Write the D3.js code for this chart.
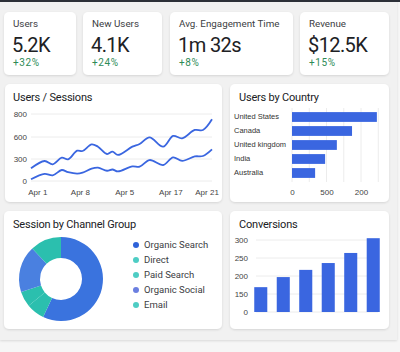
<!DOCTYPE html>
<html>
<head>
<meta charset="utf-8">
<script src="https://cdn.jsdelivr.net/npm/d3@7"></script>
<style>
    body { margin: 0; background: #f6f6f6; font-family: Roboto, "Noto Sans", sans-serif; }
    .card { fill: #ffffff; }
    .card-title { font-size: 11px; font-weight: 400; fill: #202124; letter-spacing: -0.2px; }
    .kpi-label { font-size: 9.8px; fill: #3c4043; }
    .kpi-value { font-size: 20px; fill: #202124; letter-spacing: -0.6px; }
    .kpi-delta { font-size: 10px; fill: #2e8b57; }
    .tick text { font-size: 8px; fill: #444; }
    .grid line { stroke: #ececec; stroke-width: 1; }
    .domain { display: none; }
    .tick line { display: none; }
    .legend-text { font-size: 9.5px; fill: #3c4043; }
</style>
</head>
<body>
<div id="chart"></div>
<script>
// KPI tiles
var kpiLabels = ["Users", "New Users", "Avg. Engagement Time", "Revenue"]
var kpiValues = ["5.2K", "4.1K", "1m 32s", "$12.5K"]
var kpiDeltas = ["+32%", "+24%", "+8%", "+15%"]

// Users / Sessions line chart
var lineDays = [0, 1.5, 2.4, 3.4, 4.1, 5.1, 5.7, 6.7, 7.4, 8.4, 9, 9.6, 11.2, 12, 13.1, 14.6, 15.7, 16.7, 18.1, 19, 20]
var sessionsVals = [173, 273, 228, 318, 296, 413, 409, 500, 468, 368, 400, 355, 468, 505, 596, 468, 609, 582, 661, 661, 754]
var usersVals = [23, 98, 77, 150, 120, 100, 113, 168, 181, 140, 157, 130, 200, 195, 286, 218, 323, 275, 335, 341, 432]
var lineYTicks = [0, 300, 600, 800]
var lineXTicks = [0.7, 5.4, 10.3, 15.4, 19.4]
var lineXLabels = ["Apr 1", "Apr 8", "Apr 5", "Apr 17", "Apr 21"]

// Users by Country
var countries = ["United States", "Canada", "United kingdom", "India", "Australia"]
var countryUsers = [246, 174, 130, 96, 67]
var countryTicks = [0, 100, 200]
var countryTickLabels = ["0", "500", "200"]
var countryGrid = [0, 50, 100, 150, 200, 250]

// Session by Channel Group
var channels = ["Organic Search", "Direct", "Paid Search", "Organic Social", "Email"]
var channelShare = [57, 7, 6, 18, 12]
var sliceColors = ["#3a73de", "#2bbfae", "#2bbfae", "#4a80e0", "#2bbfae"]
var legendColors = ["#2e62d9", "#4ecdc4", "#4ecdc4", "#6b7fe0", "#4ecdc4"]

// Conversions
var convPeriods = ["p1", "p2", "p3", "p4", "p5", "p6"]
var convValues = [169, 197, 217, 236, 264, 305]
var convTicks = [0, 150, 200, 250, 300]

var W = 400, H = 352
var blue = "#3a66e0"

var svg = d3.select("#chart")
    .append("svg")
        .attr("width", W)
        .attr("height", H)

var defs = svg.append("defs")
var shadow = defs.append("filter")
    .attr("id", "shadow")
    .attr("x", "-10%").attr("y", "-10%")
    .attr("width", "120%").attr("height", "130%")
shadow.append("feDropShadow")
    .attr("dx", 0).attr("dy", 1)
    .attr("stdDeviation", 1)
    .attr("flood-color", "#000")
    .attr("flood-opacity", 0.12)

// page frame
svg.append("rect")
    .attr("x", 0).attr("y", 0)
    .attr("width", 397).attr("height", 340)
    .attr("fill", "#f1f1f1")
    .attr("filter", "url(#shadow)")
svg.append("rect")
    .attr("x", 0).attr("y", 0)
    .attr("width", W).attr("height", 2)
    .attr("fill", "#2c3038")

function card(x, y, w, h){
    var g = svg.append("g")
        .attr("transform", "translate(" + x + "," + y + ")")
    g.append("rect")
        .attr("class", "card")
        .attr("width", w)
        .attr("height", h)
        .attr("rx", 5)
        .attr("filter", "url(#shadow)")
    return g
}

// ---- KPI cards
var kpiBoxes = [
    {x: 4, w: 72},
    {x: 83, w: 79},
    {x: 170, w: 123},
    {x: 300, w: 89}
]

kpiBoxes.forEach(function(b, i){
    var g = card(b.x, 12, b.w, 63)
    g.append("text").attr("class", "kpi-label").attr("x", 9).attr("y", 15).text(kpiLabels[i])
    g.append("text").attr("class", "kpi-value").attr("x", 8).attr("y", 40).text(kpiValues[i])
    g.append("text").attr("class", "kpi-delta").attr("x", 9).attr("y", 54)
        .attr("letter-spacing", 0.6).text(kpiDeltas[i])
})

// ---- Users / Sessions
function drawLines(){
    var g = card(5, 84, 217, 118)
    g.append("text").attr("class", "card-title").attr("x", 8).attr("y", 17).text("Users / Sessions")

    var x = d3.scaleLinear().domain([0, 20]).range([26, 207])
    var y = d3.scaleLinear().domain(lineYTicks).range([97, 75, 53, 30])

    g.append("g").attr("class", "grid")
        .selectAll("line").data(lineYTicks).enter()
        .append("line")
        .attr("x1", 26).attr("x2", 207)
        .attr("y1", d => y(d)).attr("y2", d => y(d))

    g.append("g")
        .attr("transform", "translate(22,0)")
        .call(d3.axisLeft(y).tickValues(lineYTicks).tickSize(0).tickPadding(0))

    g.append("g")
        .attr("transform", "translate(0,103)")
        .call(d3.axisBottom(x).tickValues(lineXTicks).tickSize(0).tickPadding(2)
            .tickFormat((d, i) => lineXLabels[i]))

    var line = d3.line()
        .x((d, i) => x(lineDays[i]))
        .y(d => y(d))
        .curve(d3.curveCatmullRom.alpha(0.5))

    ;[sessionsVals, usersVals].forEach(function(vals){
        g.append("path")
            .attr("d", line(vals))
            .attr("fill", "none")
            .attr("stroke", blue)
            .attr("stroke-width", 1.8)
    })
}

// ---- Users by Country
function drawCountry(){
    var g = card(230, 84, 159, 118)
    g.append("text").attr("class", "card-title").attr("x", 9).attr("y", 17).text("Users by Country")

    var x = d3.scaleLinear().domain([0, 200]).range([62, 131])
    var y = d3.scaleBand().domain(countries).range([26, 96]).paddingInner(0.3).paddingOuter(0.15)

    g.append("g").attr("class", "grid")
        .selectAll("line").data(countryGrid).enter()
        .append("line")
        .attr("x1", d => x(d)).attr("x2", d => x(d))
        .attr("y1", 24).attr("y2", 98)

    g.selectAll(".bar").data(countryUsers).enter()
        .append("rect")
        .attr("class", "bar")
        .attr("x", x(0))
        .attr("y", (d, i) => y(countries[i]))
        .attr("width", d => x(d) - x(0))
        .attr("height", y.bandwidth())
        .attr("fill", blue)

    g.append("g")
        .attr("transform", "translate(4,0)")
        .call(d3.axisRight(y).tickSize(0).tickPadding(0))
        .selectAll("text").style("font-size", "7.5px").style("fill", "#333")

    g.append("g")
        .attr("transform", "translate(0,103)")
        .call(d3.axisBottom(x).tickValues(countryTicks).tickSize(0).tickPadding(2)
            .tickFormat((d, i) => countryTickLabels[i]))
}

// ---- Session by Channel Group
function drawDonut(){
    var g = card(4, 211, 218, 118)
    g.append("text").attr("class", "card-title").attr("x", 9).attr("y", 17).text("Session by Channel Group")

    var pie = d3.pie().sort(null)
    var arc = d3.arc().innerRadius(21).outerRadius(42)

    var pg = g.append("g").attr("transform", "translate(57,68)")
    pg.selectAll("path").data(pie(channelShare)).enter()
        .append("path")
        .attr("d", arc)
        .attr("fill", (d, i) => sliceColors[i])

    var leg = g.append("g").attr("transform", "translate(132,34)")
    var items = leg.selectAll("g").data(channels).enter()
        .append("g")
        .attr("transform", (d, i) => "translate(0," + (i * 15) + ")")
    items.append("circle").attr("r", 3).attr("fill", (d, i) => legendColors[i])
    items.append("text").attr("class", "legend-text")
        .attr("x", 8).attr("dy", "0.35em").text(d => d)
}

// ---- Conversions
function drawConversions(){
    var g = card(230, 211, 159, 118)
    g.append("text").attr("class", "card-title").attr("x", 9).attr("y", 17).text("Conversions")

    var y = d3.scaleLinear().domain(convTicks).range([101, 83, 65, 47, 29])
    var x = d3.scaleBand().domain(convPeriods).range([22, 152]).paddingInner(0.42).paddingOuter(0.1)

    g.append("g").attr("class", "grid")
        .selectAll("line").data(convTicks).enter()
        .append("line")
        .attr("x1", 26).attr("x2", 148)
        .attr("y1", d => y(d)).attr("y2", d => y(d))

    g.append("g")
        .attr("transform", "translate(18,0)")
        .call(d3.axisLeft(y).tickValues(convTicks).tickSize(0).tickPadding(0))

    g.selectAll(".bar").data(convValues).enter()
        .append("rect")
        .attr("class", "bar")
        .attr("x", (d, i) => x(convPeriods[i]))
        .attr("y", d => y(d))
        .attr("width", x.bandwidth())
        .attr("height", d => y(0) - y(d))
        .attr("fill", blue)
}

drawLines()
drawCountry()
drawDonut()
drawConversions()
</script>
</body>
</html>
